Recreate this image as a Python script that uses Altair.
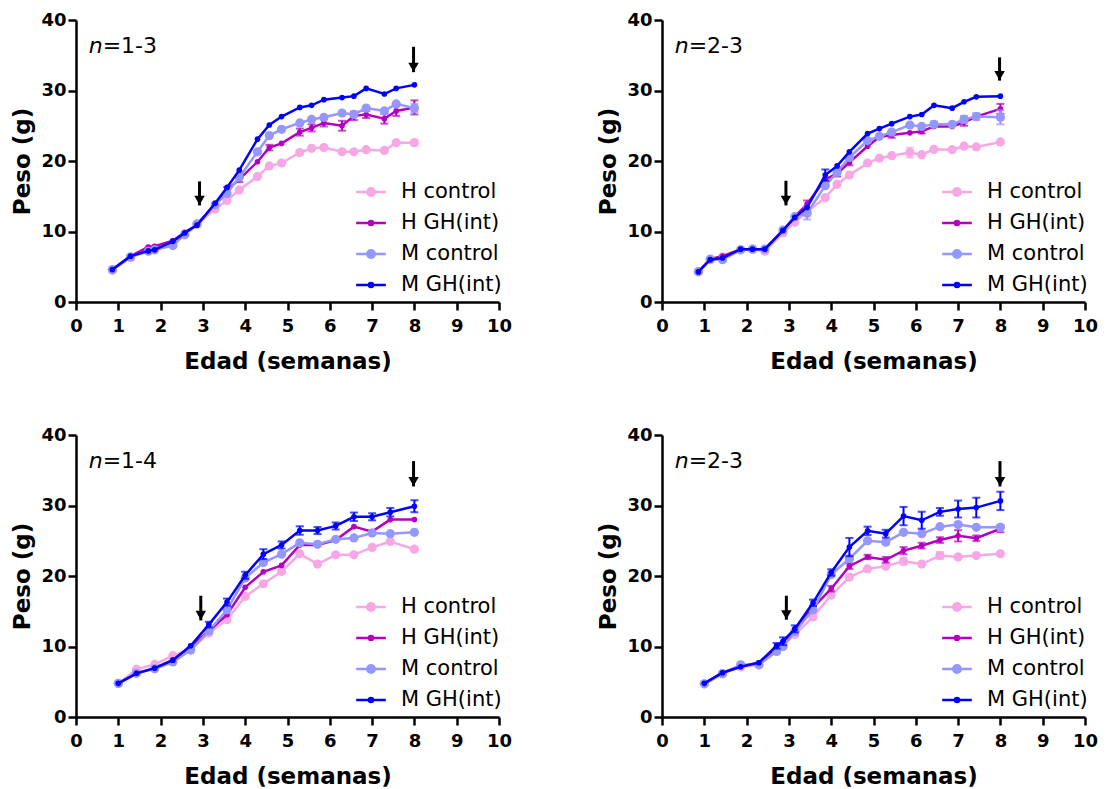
import altair as alt
import pandas as pd

SERIES = ["H control", "H GH(int)", "M control", "M GH(int)"]
COLORS = ["#F7A8E4", "#B400BE", "#9696FF", "#0000FF"]
POINT_SIZES = [85, 32, 85, 32]
LEGEND_SHAPES = [
    "M-1.1,0H1.1M-0.28,0A0.28,0.28 0 1,0 0.28,0A0.28,0.28 0 1,0 -0.28,0Z",
    "M-1.1,0H1.1M-0.15,0A0.15,0.15 0 1,0 0.15,0A0.15,0.15 0 1,0 -0.15,0Z",
    "M-1.1,0H1.1M-0.28,0A0.28,0.28 0 1,0 0.28,0A0.28,0.28 0 1,0 -0.28,0Z",
    "M-1.1,0H1.1M-0.15,0A0.15,0.15 0 1,0 0.15,0A0.15,0.15 0 1,0 -0.15,0Z",
]
FONT = "DejaVu Sans"

# ---------------- Panel 1 (n=1-3) ----------------
p1_x = [0.86, 1.29, 1.71, 1.86, 2.29, 2.57, 2.86, 3.29, 3.57, 3.86, 4.29,
        4.57, 4.86, 5.29, 5.57, 5.86, 6.29, 6.57, 6.86, 7.29, 7.57, 8.0]
p1_hc = [4.5, 6.3, 7.5, 7.6, 8.4, 9.5, 11.0, 13.2, 14.4, 15.9, 17.8,
         19.3, 19.7, 21.2, 21.8, 21.9, 21.3, 21.3, 21.6, 21.5, 22.6, 22.6]
p1_hc_err = [0, 0, 0, 0, 0, 0, 0, 0, 0, 0, 0, 0, 0, 0, 0, 0, 0, 0, 0, 0, 0, 0.4]
p1_hgh = [4.6, 6.5, 7.8, 7.9, 8.7, 9.9, 10.9, 13.9, 15.9, 17.4, 19.9,
          21.9, 22.5, 24.1, 24.7, 25.4, 25.0, 26.4, 26.6, 26.0, 27.1, 27.6]
p1_hgh_err = [0, 0, 0, 0, 0, 0, 0, 0, 0.4, 0.4, 0, 0.4, 0, 0.5, 0.5, 0.5,
              0.7, 0.6, 0.5, 0.7, 0.7, 1.0]
p1_mc = [4.6, 6.4, 7.2, 7.4, 8.0, 9.6, 11.1, 13.8, 15.4, 17.7, 21.3,
         23.6, 24.5, 25.4, 25.9, 26.2, 26.8, 26.6, 27.5, 27.1, 28.1, 27.5]
p1_mc_err = [0, 0, 0, 0, 0, 0, 0, 0, 0, 0, 0, 0, 0, 0, 0, 0, 0, 0, 0, 0, 0, 0.6]
p1_mgh = [4.6, 6.5, 7.25, 7.4, 8.6, 9.8, 10.9, 14.0, 16.25, 18.7, 23.1,
          25.1, 26.3, 27.6, 27.9, 28.7, 29.0, 29.2, 30.3, 29.5, 30.3, 30.8]
p1_mgh_err = [0] * 22
p1_n = ["n", "=1-3"]
p1_arrow_x = [2.92, 7.98]
p1_arrow_top = [17.1, 36.2]
p1_arrow_tip = [13.7, 32.6]

# ---------------- Panel 2 (n=2-3) ----------------
p2_x = [0.86, 1.14, 1.43, 1.86, 2.14, 2.43, 2.86, 3.14, 3.43, 3.86, 4.14,
        4.43, 4.86, 5.14, 5.43, 5.86, 6.14, 6.43, 6.86, 7.14, 7.43, 8.0]
p2_hc = [4.3, 6.0, 6.4, 7.4, 7.5, 7.2, 9.8, 11.3, 12.8, 14.8, 16.7,
         18.0, 19.7, 20.4, 20.75, 21.2, 20.9, 21.65, 21.6, 22.1, 22.0, 22.7]
p2_hc_err = [0, 0, 0, 0, 0, 0, 0, 0, 0, 0, 0, 0, 0, 0, 0, 0.7, 0, 0, 0, 0, 0, 0]
p2_hgh = [4.3, 6.1, 6.5, 7.5, 7.5, 7.5, 10.15, 12.1, 13.9, 17.4, 18.2,
          19.8, 22.1, 23.4, 23.7, 24.0, 24.2, 24.9, 24.9, 25.5, 26.3, 27.4]
p2_hgh_err = [0, 0, 0, 0, 0, 0, 0, 0, 0.5, 0, 0.4, 0.4, 0, 0, 0.4, 0, 0.3,
              0, 0, 0.5, 0, 0.7]
p2_mc = [4.3, 6.1, 6.0, 7.4, 7.5, 7.5, 10.2, 12.1, 12.6, 16.5, 18.4,
         20.5, 22.9, 23.5, 24.1, 25.1, 24.9, 25.2, 25.2, 25.9, 26.3, 26.2]
p2_mc_err = [0, 0, 0, 0, 0, 0, 0, 0, 0.9, 0, 0, 0, 0, 0, 0, 0, 0, 0.4,
             0, 0.5, 0.5, 1.0]
p2_mgh = [4.27, 6.0, 6.25, 7.5, 7.5, 7.5, 10.15, 12.0, 13.4, 18.0, 19.3,
          21.3, 23.9, 24.6, 25.3, 26.3, 26.6, 27.9, 27.5, 28.4, 29.1, 29.2]
p2_mgh_err = [0, 0, 0, 0, 0, 0, 0, 0, 0, 0.8, 0, 0, 0, 0, 0, 0, 0, 0, 0, 0, 0, 0]
p2_n = ["n", "=2-3"]
p2_arrow_x = [2.93, 7.98]
p2_arrow_top = [17.2, 34.7]
p2_arrow_tip = [13.7, 31.4]

# ---------------- Panel 3 (n=1-4) ----------------
p3_x = [1.0, 1.43, 1.86, 2.29, 2.71, 3.14, 3.57, 4.0, 4.43, 4.86, 5.29,
        5.71, 6.14, 6.57, 7.0, 7.43, 8.0]
p3_hc = [4.77, 6.75, 7.45, 8.7, 9.6, 11.9, 13.8, 17.1, 18.9, 20.65, 23.15,
         21.7, 23.0, 23.0, 24.05, 24.9, 23.8]
p3_hc_err = [0] * 17
p3_hgh = [4.77, 6.2, 6.93, 8.1, 10.0, 12.2, 14.5, 18.4, 20.6, 21.5, 24.4,
          24.4, 25.1, 27.0, 26.3, 28.0, 28.0]
p3_hgh_err = [0] * 17
p3_mc = [4.77, 6.2, 6.85, 7.8, 9.5, 12.2, 15.2, 19.7, 21.9, 23.1, 24.7,
         24.5, 25.2, 25.4, 26.1, 26.0, 26.2]
p3_mc_err = [0] * 17
p3_mgh = [4.77, 6.2, 6.93, 8.06, 10.1, 13.1, 16.3, 20.1, 23.1, 24.4, 26.45,
          26.45, 27.1, 28.4, 28.4, 29.05, 29.9]
p3_mgh_err = [0, 0, 0, 0, 0, 0.4, 0.5, 0.5, 0.7, 0.5, 0.6, 0.5, 0.5, 0.6,
              0.5, 0.6, 0.85]
p3_n = ["n", "=1-4"]
p3_arrow_x = [2.95, 7.98]
p3_arrow_top = [17.2, 36.3]
p3_arrow_tip = [13.7, 32.7]

# ---------------- Panel 4 (n=2-3) ----------------
p4_x = [1.0, 1.43, 1.86, 2.29, 2.71, 2.86, 3.14, 3.57, 4.0, 4.43, 4.86,
        5.29, 5.71, 6.14, 6.57, 7.0, 7.43, 8.0]
p4_hc = [4.7, 6.15, 7.1, 7.4, 9.6, 10.2, 11.7, 14.2, 17.3, 19.85, 21.0,
         21.4, 22.1, 21.7, 22.9, 22.7, 22.9, 23.15]
p4_hc_err = [0, 0, 0, 0, 0, 0, 0, 0, 0, 0, 0, 0, 0.5, 0, 0.5, 0, 0, 0]
p4_hgh = [4.77, 6.28, 7.2, 7.7, 9.8, 10.5, 12.4, 15.5, 18.2, 21.4, 22.7,
          22.3, 23.6, 24.3, 25.1, 25.7, 25.35, 26.7]
p4_hgh_err = [0, 0, 0, 0, 0, 0, 0, 0.3, 0.4, 0.4, 0.3, 0.4, 0.5, 0.4, 0.4,
              0.8, 0.4, 0.5]
p4_mc = [4.7, 6.15, 7.4, 7.4, 9.3, 10.0, 12.1, 15.2, 20.2, 22.45, 25.0,
         24.8, 26.2, 26.0, 27.0, 27.3, 26.9, 26.9]
p4_mc_err = [0] * 18
p4_mgh = [4.77, 6.28, 7.13, 7.7, 10.1, 10.75, 12.5, 16.2, 20.5, 24.1, 26.4,
          26.0, 28.5, 27.9, 29.1, 29.5, 29.7, 30.65]
p4_mgh_err = [0, 0, 0, 0, 0.4, 0.55, 0.5, 0.45, 0.45, 1.3, 0.6, 0.55, 1.3,
              1.2, 0.55, 1.2, 1.4, 1.3]
p4_n = ["n", "=2-3"]
p4_arrow_x = [2.94, 7.99]
p4_arrow_top = [17.2, 36.3]
p4_arrow_tip = [13.8, 32.7]

X_TICKS = [0, 1, 2, 3, 4, 5, 6, 7, 8, 9, 10]
Y_TICKS = [0, 10, 20, 30, 40]
N_LABEL_X = 0.3
N_LABEL_Y = 35.3

PANEL_W = 423
PANEL_H = 282


def make_df(x, values, errs):
    rows = []
    for s, vals, es in zip(SERIES, values, errs):
        for xi, v, e in zip(x, vals, es):
            rows.append({"x": xi, "y": v, "err": e, "lo": v - e, "hi": v + e,
                         "serie": s})
    return pd.DataFrame(rows)


x_scale = alt.Scale(domain=[0, 10], nice=False, zero=False)
y_scale = alt.Scale(domain=[0, 40], nice=False, zero=False)

axis_common = dict(
    grid=False, tickSize=8, tickWidth=2.5, tickColor="black",
    domainWidth=2.5, domainColor="black", labelFont=FONT,
    labelFontWeight="bold", labelFontSize=18, labelColor="black",
    titleFont=FONT, titleFontWeight="bold", titleFontSize=23,
    titleColor="black", labelFlush=False, labelOverlap=False,
)
x_axis = alt.Axis(values=X_TICKS, title="Edad (semanas)", labelPadding=7,
                  titlePadding=15, **axis_common)
y_axis = alt.Axis(values=Y_TICKS, title="Peso (g)", labelPadding=2,
                  titlePadding=6, **axis_common)


def make_panel(x, values, errs, n_text, ax, atop, atip):
    df = make_df(x, values, errs)
    base = alt.Chart(df)
    layers = []
    for s, col, sz in zip(SERIES, COLORS, POINT_SIZES):
        sd = base.transform_filter(alt.datum.serie == s)
        line = sd.mark_line(color=col, strokeWidth=2.5).encode(
            x=alt.X("x:Q", scale=x_scale, axis=x_axis),
            y=alt.Y("y:Q", scale=y_scale, axis=y_axis),
        )
        errd = sd.transform_filter(alt.datum.err > 0)
        rule = errd.mark_rule(color=col, strokeWidth=2).encode(
            x="x:Q", y="lo:Q", y2="hi:Q")
        cap_hi = errd.mark_tick(color=col, size=8, thickness=2,
                                orient="horizontal").encode(x="x:Q", y="hi:Q")
        cap_lo = errd.mark_tick(color=col, size=8, thickness=2,
                                orient="horizontal").encode(x="x:Q", y="lo:Q")
        pts = sd.mark_point(filled=True, color=col, size=sz, opacity=1).encode(
            x="x:Q", y="y:Q")
        layers += [line, rule, cap_hi, cap_lo, pts]

    arrows = pd.DataFrame({"x": ax, "top": atop, "tip": atip})
    shaft = alt.Chart(arrows).mark_rule(color="black", strokeWidth=3).encode(
        x="x:Q", y="top:Q", y2="tip:Q")
    head = alt.Chart(arrows).mark_point(
        shape="triangle-down", filled=True, color="black", size=110,
        opacity=1, yOffset=-5).encode(x="x:Q", y="tip:Q")

    ann = pd.DataFrame({"x": [N_LABEL_X], "y": [N_LABEL_Y],
                        "n": [n_text[0]], "rest": [n_text[1]]})
    t_n = alt.Chart(ann).mark_text(
        font=FONT, fontSize=22, fontStyle="italic", align="left",
        baseline="alphabetic", color="black").encode(
        x="x:Q", y="y:Q", text="n:N")
    t_rest = alt.Chart(ann).mark_text(
        font=FONT, fontSize=22, align="left", baseline="alphabetic",
        color="black", dx=14).encode(x="x:Q", y="y:Q", text="rest:N")

    legend = alt.Legend(
        orient="none", legendX=280, legendY=157, title=None, padding=0,
        labelFont=FONT, labelFontSize=21, labelColor="black",
        symbolSize=729, symbolStrokeWidth=2.5, symbolOpacity=1,
        rowPadding=6, labelOffset=15,
    )
    leg_layer = base.transform_filter("false").mark_point(
        filled=True, strokeWidth=2.5, opacity=1).encode(
        x="x:Q", y="y:Q",
        color=alt.Color("serie:N", scale=alt.Scale(domain=SERIES, range=COLORS),
                        legend=legend),
        stroke=alt.Stroke("serie:N",
                          scale=alt.Scale(domain=SERIES, range=COLORS),
                          legend=legend),
        shape=alt.Shape("serie:N",
                        scale=alt.Scale(domain=SERIES, range=LEGEND_SHAPES),
                        legend=legend),
    )
    layers += [shaft, head, t_n, t_rest, leg_layer]
    return alt.layer(*layers).properties(width=PANEL_W, height=PANEL_H)


p1 = make_panel(p1_x, [p1_hc, p1_hgh, p1_mc, p1_mgh],
                [p1_hc_err, p1_hgh_err, p1_mc_err, p1_mgh_err],
                p1_n, p1_arrow_x, p1_arrow_top, p1_arrow_tip)
p2 = make_panel(p2_x, [p2_hc, p2_hgh, p2_mc, p2_mgh],
                [p2_hc_err, p2_hgh_err, p2_mc_err, p2_mgh_err],
                p2_n, p2_arrow_x, p2_arrow_top, p2_arrow_tip)
p3 = make_panel(p3_x, [p3_hc, p3_hgh, p3_mc, p3_mgh],
                [p3_hc_err, p3_hgh_err, p3_mc_err, p3_mgh_err],
                p3_n, p3_arrow_x, p3_arrow_top, p3_arrow_tip)
p4 = make_panel(p4_x, [p4_hc, p4_hgh, p4_mc, p4_mgh],
                [p4_hc_err, p4_hgh_err, p4_mc_err, p4_mgh_err],
                p4_n, p4_arrow_x, p4_arrow_top, p4_arrow_tip)

chart = alt.concat(p1, p2, p3, p4, columns=2,
                   spacing={"row": 53, "column": 85}).resolve_scale(
    color="independent", stroke="independent", shape="independent"
).resolve_legend(
    color="independent", stroke="independent", shape="independent"
).configure_view(stroke=None).properties(
    padding={"left": 3, "top": 3, "right": 0, "bottom": 0},
    background="white",
)

chart.save("out.html", embed_options={"renderer": "svg", "actions": False})
